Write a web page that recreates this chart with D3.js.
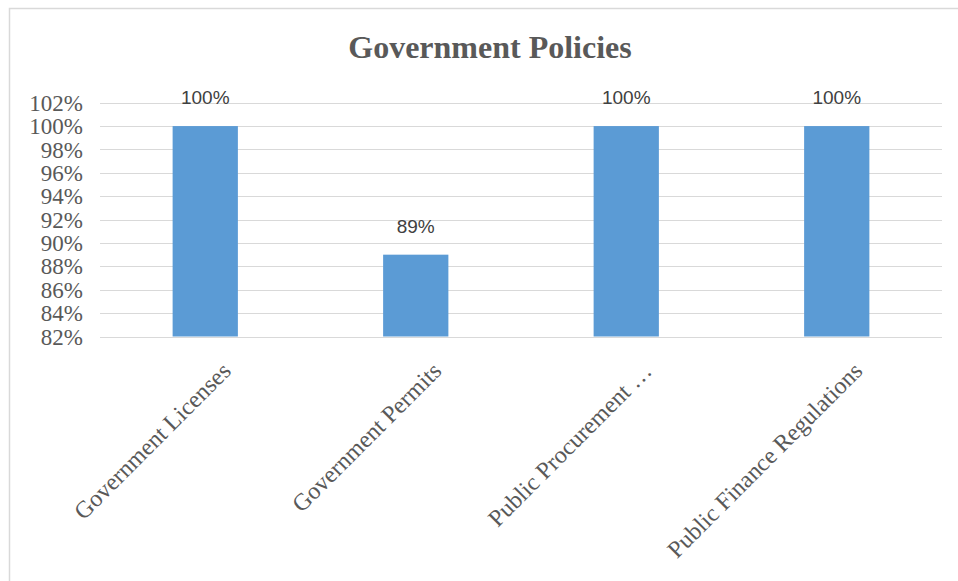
<!DOCTYPE html>
<html>
<head>
<meta charset="utf-8">
<script src="https://cdn.jsdelivr.net/npm/d3@7"></script>
<style>
  html, body { margin: 0; padding: 0; background: #ffffff; }
  svg { display: block; }
</style>
</head>
<body>
<svg id="chart" width="958" height="581"></svg>
<script>
// Chart data
const title = "Government Policies";
const categories = ["Government Licenses", "Government Permits", "Public Procurement …", "Public Finance Regulations"];
const values = [100, 89, 100, 100];
const yTicks = [82, 84, 86, 88, 90, 92, 94, 96, 98, 100, 102];

const svg = d3.select("#chart");

// Chart area frame (extends beyond the right and bottom edges)
svg.append("rect")
  .attr("x", 9.5).attr("y", 8.5)
  .attr("width", 1000).attr("height", 1000)
  .attr("fill", "#ffffff")
  .attr("stroke", "#d9d9d9")
  .attr("stroke-width", 1.5);

const plot = { left: 100, right: 942, top: 102.7, bottom: 336.5 };

const x = d3.scaleBand()
  .domain(categories)
  .range([plot.left, plot.right])
  .paddingInner(0.69)
  .paddingOuter(0.345);

const y = d3.scaleLinear()
  .domain([82, 102])
  .range([plot.bottom, plot.top]);

// Title
svg.append("text")
  .attr("x", 490).attr("y", 58)
  .attr("text-anchor", "middle")
  .attr("font-family", "Liberation Serif, Times New Roman, serif")
  .attr("font-weight", "bold")
  .attr("font-size", 32)
  .attr("fill", "#595959")
  .text(title);

// Horizontal gridlines
svg.append("g")
  .selectAll("line")
  .data(yTicks)
  .join("line")
  .attr("x1", plot.left).attr("x2", plot.right)
  .attr("y1", d => Math.round(y(d)) + 0.5)
  .attr("y2", d => Math.round(y(d)) + 0.5)
  .attr("stroke", "#d9d9d9")
  .attr("stroke-width", 1.2);

// Y axis labels
const yAxis = d3.axisLeft(y)
  .tickValues(yTicks)
  .tickSize(0)
  .tickPadding(0)
  .tickFormat(d => d + "%");

const gy = svg.append("g")
  .attr("transform", `translate(${83},0)`)
  .call(yAxis);
gy.select(".domain").remove();
gy.selectAll("text")
  .attr("font-family", "Liberation Serif, Times New Roman, serif")
  .attr("font-size", 23)
  .attr("fill", "#595959")
  .attr("dy", "0.33em");

// Bars
svg.append("g")
  .selectAll("rect")
  .data(values)
  .join("rect")
  .attr("x", (d, i) => x(categories[i]))
  .attr("width", x.bandwidth())
  .attr("y", d => y(d))
  .attr("height", d => y(82) - y(d))
  .attr("fill", "#5b9bd5");

// Value labels
svg.append("g")
  .selectAll("text")
  .data(values)
  .join("text")
  .attr("x", (d, i) => x(categories[i]) + x.bandwidth() / 2)
  .attr("y", d => y(d) - 22)
  .attr("text-anchor", "middle")
  .attr("font-family", "Liberation Sans, Arial, sans-serif")
  .attr("font-size", 19)
  .attr("fill", "#404040")
  .text(d => d + "%");

// Category labels, rotated
const gx = svg.append("g")
  .attr("transform", `translate(0,${plot.bottom})`)
  .call(d3.axisBottom(x).tickSize(0).tickPadding(0));
gx.select(".domain").remove();
gx.selectAll("text")
  .attr("font-family", "Liberation Serif, Times New Roman, serif")
  .attr("font-size", 24)
  .attr("fill", "#595959")
  .attr("text-anchor", "end")
  .attr("dy", 0)
  .attr("y", 0)
  .attr("transform", "translate(27,36) rotate(-45)");
</script>
</body>
</html>
